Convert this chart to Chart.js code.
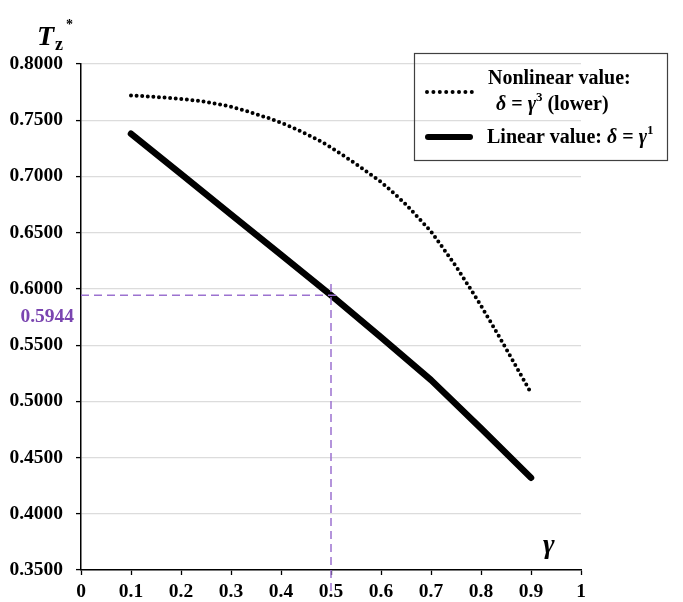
<!DOCTYPE html>
<html>
<head>
<meta charset="utf-8">
<script src="https://cdn.jsdelivr.net/npm/chart.js@4.4.1/dist/chart.umd.min.js"></script>
<style>
html,body{margin:0;padding:0;background:#fff;}
#wrap{width:683px;height:602px;position:relative;}
</style>
</head>
<body>
<div id="wrap"><canvas id="c" width="683" height="602"></canvas></div>
<script>
// ---- data ----
const gammaFine = [0.10,0.11,0.12,0.13,0.14,0.15,0.16,0.17,0.18,0.19,
  0.20,0.21,0.22,0.23,0.24,0.25,0.26,0.27,0.28,0.29,
  0.30,0.31,0.32,0.33,0.34,0.35,0.36,0.37,0.38,0.39,
  0.40,0.41,0.42,0.43,0.44,0.45,0.46,0.47,0.48,0.49,
  0.50,0.51,0.52,0.53,0.54,0.55,0.56,0.57,0.58,0.59,
  0.60,0.61,0.62,0.63,0.64,0.65,0.66,0.67,0.68,0.69,
  0.70,0.71,0.72,0.73,0.74,0.75,0.76,0.77,0.78,0.79,
  0.80,0.81,0.82,0.83,0.84,0.85,0.86,0.87,0.88,0.89,0.90];
const nonlinearValues = [0.7720,0.7718,0.7716,0.7713,0.7710,0.7707,0.7704,0.7701,0.7697,0.7693,
  0.7690,0.7685,0.7680,0.7675,0.7669,0.7662,0.7655,0.7647,0.7639,0.7630,
  0.7620,0.7608,0.7596,0.7583,0.7569,0.7555,0.7540,0.7526,0.7512,0.7495,
  0.7478,0.7460,0.7441,0.7421,0.7400,0.7379,0.7357,0.7334,0.7310,0.7285,
  0.7258,0.7229,0.7200,0.7170,0.7140,0.7110,0.7079,0.7047,0.7015,0.6983,
  0.6950,0.6912,0.6873,0.6833,0.6792,0.6750,0.6703,0.6655,0.6607,0.6559,
  0.6510,0.6449,0.6388,0.6326,0.6263,0.6200,0.6131,0.6062,0.5992,0.5921,
  0.5850,0.5775,0.5700,0.5624,0.5547,0.5470,0.5391,0.5312,0.5233,0.5154,0.5075];
const gammaCoarse = [0.1,0.2,0.3,0.4,0.5,0.6,0.7,0.8,0.9];
const linearValues = [0.738,0.7021,0.6662,0.6303,0.5944,0.557,0.519,0.476,0.432];
const markerGamma = 0.5;
const markerValue = 0.5944;
const markerLabel = '0.5944';
const xTickLabels = ['0','0.1','0.2','0.3','0.4','0.5','0.6','0.7','0.8','0.9','1'];
const yMin = 0.35, yMax = 0.80, yStep = 0.05;

// ---- build ----
const SERIF = '"Liberation Serif","Times New Roman",serif';
const nonlinearPts = gammaFine.map((g,i)=>({x:g,y:nonlinearValues[i]}));
const linearPts = gammaCoarse.map((g,i)=>({x:g,y:linearValues[i]}));
const hDash = [{x:0,y:markerValue},{x:markerGamma+0.018,y:markerValue}];
const vDash = [{x:markerGamma,y:markerValue+0.01},{x:markerGamma,y:yMin-0.02}];
const PURPLE_LINE = '#9c72d0';
const PURPLE_TEXT = '#7a45b0';

const overlay = {
  id:'overlay',
  afterDraw(chart){
    const ctx = chart.ctx;
    const ys = chart.scales.y;
    ctx.save();
    // marker label
    ctx.fillStyle = PURPLE_TEXT;
    ctx.font = 'bold 19.5px '+SERIF;
    ctx.textAlign='right'; ctx.textBaseline='middle';
    ctx.fillText(markerLabel, 74, ys.getPixelForValue(markerValue)+22);
    // axis titles
    ctx.fillStyle='#000';
    ctx.textAlign='left'; ctx.textBaseline='alphabetic';
    ctx.font='italic bold 28px '+SERIF;
    ctx.fillText('T', 37, 45);
    ctx.font='bold 18px '+SERIF;
    ctx.fillText('z', 55, 50);
    ctx.font='bold 14px '+SERIF;
    ctx.fillText('*', 66, 29);
    ctx.font='italic bold 28px '+SERIF;
    ctx.fillText('γ', 543, 553);
    // legend box
    ctx.strokeStyle='#404040'; ctx.lineWidth=1.2;
    ctx.strokeRect(414.5,53.5,253,107);
    // dotted symbol
    ctx.strokeStyle='#000'; ctx.lineWidth=4; ctx.lineCap='round';
    ctx.setLineDash([0,6.4]);
    ctx.beginPath(); ctx.moveTo(427,92); ctx.lineTo(472,92); ctx.stroke();
    ctx.setLineDash([]);
    // solid symbol
    ctx.lineWidth=6;
    ctx.beginPath(); ctx.moveTo(428,137); ctx.lineTo(470,137); ctx.stroke();
    // legend texts
    const B = 'bold 20px '+SERIF, BI='italic bold 20px '+SERIF, SUP='bold 13px '+SERIF;
    function run(parts, x, y){
      for(const p of parts){
        ctx.font=p[1];
        const dy = p[2]||0;
        ctx.fillText(p[0], x, y+dy);
        x += ctx.measureText(p[0]).width;
      }
    }
    ctx.fillStyle='#000';
    run([['Nonlinear value:',B]], 488, 84);
    run([['δ',BI],[' = ',B],['γ',BI],['3',SUP,-9],[' (lower)',B]], 496, 110);
    run([['Linear value: ',B],['δ',BI],[' = ',B],['γ',BI],['1',SUP,-9]], 487, 143);
    ctx.restore();
  }
};

new Chart(document.getElementById('c'), {
  type:'scatter',
  data:{
    datasets:[
      {label:'hdash', data:hDash, showLine:true, borderColor:PURPLE_LINE, borderWidth:1.5, borderDash:[8,5], pointRadius:0, clip:false},
      {label:'vdash', data:vDash, showLine:true, borderColor:PURPLE_LINE, borderWidth:1.5, borderDash:[8,5], pointRadius:0, clip:false},
      {label:'Linear value', data:linearPts, showLine:true, borderColor:'#000', borderWidth:6.5, borderCapStyle:'round', borderJoinStyle:'round', pointRadius:0, tension:0},
      {label:'Nonlinear value', data:nonlinearPts, showLine:true, borderColor:'#000', borderWidth:4, borderDash:[0,5.6], borderCapStyle:'round', pointRadius:0, tension:0}
    ]
  },
  options:{
    responsive:false, animation:false, devicePixelRatio:1,
    layout:{padding:{top:64,right:102,left:0,bottom:0}},
    plugins:{legend:{display:false}, tooltip:{enabled:false}},
    scales:{
      x:{type:'linear', min:0, max:1,
        afterFit(s){ s.height = 32; },
        ticks:{stepSize:0.1, color:'#000', padding:5, font:{family:SERIF, size:19.5, weight:'bold'},
          callback:(v,i)=>xTickLabels[i]},
        grid:{drawOnChartArea:false, tickLength:5, tickColor:'#000', tickWidth:1.3},
        border:{color:'#000', width:1.5}
      },
      y:{type:'linear', min:yMin, max:yMax,
        afterFit(s){ s.width = 81; },
        ticks:{stepSize:yStep, color:'#000', padding:13, font:{family:SERIF, size:19.5, weight:'bold'},
          callback:(v)=>Number(v).toFixed(4)},
        grid:{color:'#dcdcdc', lineWidth:1.2, tickLength:5, tickColor:'#000', tickWidth:1.3},
        border:{color:'#000', width:1.5}
      }
    }
  },
  plugins:[overlay]
});
</script>
</body>
</html>
